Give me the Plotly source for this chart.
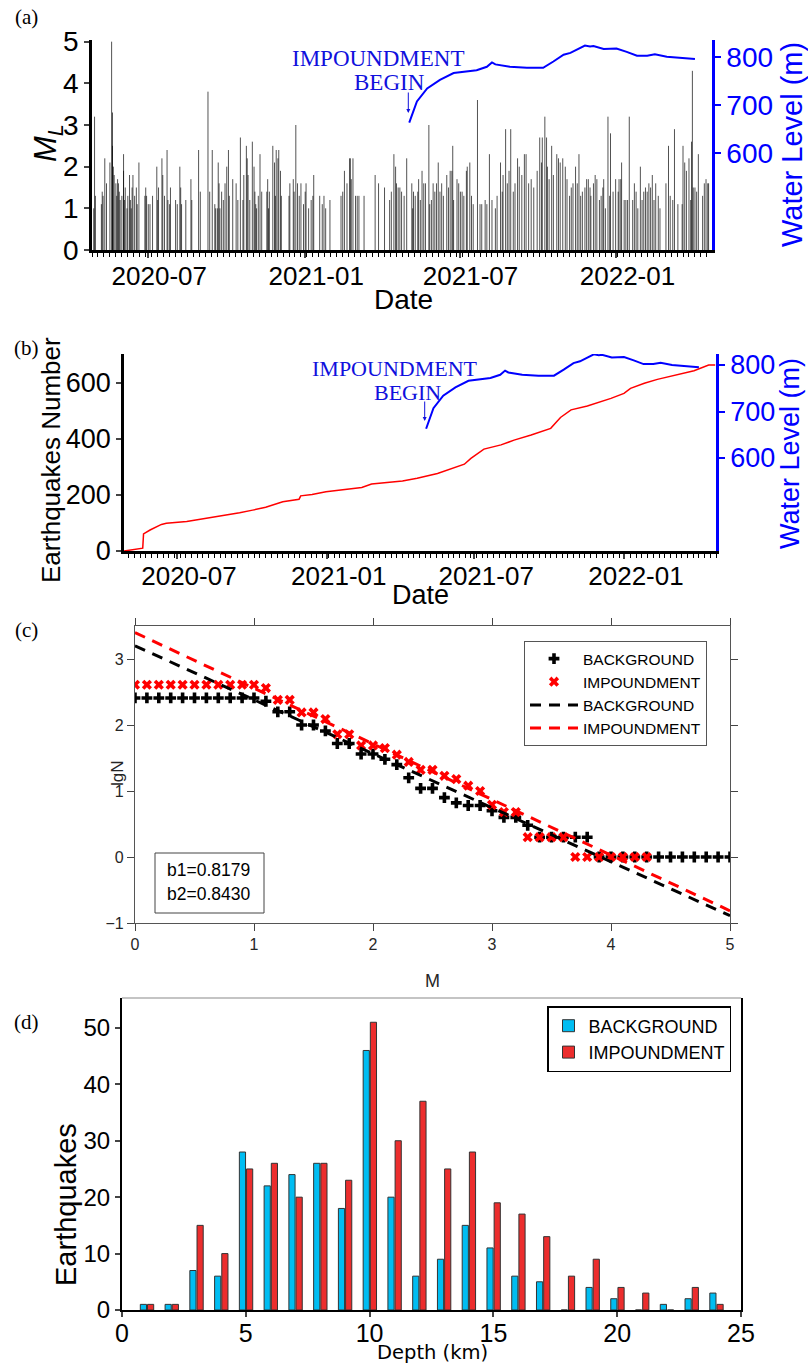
import plotly.graph_objects as go

W, H = 808, 1366
SANS = "Liberation Sans, Arial, Helvetica, sans-serif"
SERIF = "Liberation Serif, Times New Roman, serif"
BLUE = "#0000ff"

# ---------------- (a) earthquake magnitudes ----------------
ev_dates = [
 "2020-04-28","2020-04-29","2020-04-30","2020-05-07","2020-05-08","2020-05-09","2020-05-11","2020-05-13","2020-05-17","2020-05-19",
 "2020-05-20","2020-05-20","2020-05-21","2020-05-22","2020-05-24","2020-05-25","2020-05-26","2020-05-27","2020-05-28","2020-05-29",
 "2020-05-31","2020-06-02","2020-06-02","2020-06-03","2020-06-04","2020-06-06","2020-06-07","2020-06-09","2020-06-10","2020-06-11",
 "2020-06-12","2020-06-13","2020-06-15","2020-06-17","2020-06-18","2020-06-20","2020-06-27","2020-06-28","2020-06-29","2020-07-01",
 "2020-07-03","2020-07-06","2020-07-11","2020-07-12","2020-07-13","2020-07-17","2020-07-18","2020-07-20","2020-07-23","2020-07-24",
 "2020-07-26","2020-07-27","2020-08-02","2020-08-04","2020-08-07","2020-08-08","2020-08-09","2020-08-14","2020-08-20","2020-08-21",
 "2020-08-29","2020-08-31","2020-09-09","2020-09-11","2020-09-14","2020-09-17","2020-09-18","2020-09-20","2020-09-21","2020-09-22",
 "2020-09-23","2020-09-25","2020-09-27","2020-09-29","2020-10-01","2020-10-03","2020-10-04","2020-10-08","2020-10-12","2020-10-14",
 "2020-10-17","2020-10-20","2020-10-21","2020-10-24","2020-10-25","2020-10-26","2020-10-28",
 "2020-10-31","2020-11-02","2020-11-03","2020-11-04","2020-11-05","2020-11-07","2020-11-09","2020-11-11","2020-11-17","2020-11-18",
 "2020-11-19","2020-11-20","2020-11-24","2020-11-26","2020-11-27","2020-11-28","2020-11-30","2020-12-01","2020-12-03","2020-12-04",
 "2020-12-13","2020-12-14","2020-12-18","2020-12-19","2020-12-21","2020-12-23","2020-12-25","2020-12-27","2020-12-30","2021-01-01",
 "2021-01-02","2021-01-05","2021-01-08","2021-01-10","2021-01-11","2021-01-18","2021-01-21","2021-01-23","2021-01-25","2021-01-30",
 "2021-02-12","2021-02-14","2021-02-16","2021-02-19","2021-02-22","2021-02-23","2021-02-24","2021-02-26","2021-03-01","2021-03-03",
 "2021-03-05","2021-03-11","2021-03-24","2021-03-28","2021-04-04","2021-04-10","2021-04-12","2021-04-15","2021-04-17","2021-04-18",
 "2021-04-20","2021-04-22","2021-04-24","2021-04-27","2021-04-30",
 "2021-05-06","2021-05-07","2021-05-08","2021-05-10","2021-05-13","2021-05-14","2021-05-16","2021-05-18","2021-05-20","2021-05-22",
 "2021-05-26","2021-05-27","2021-05-29","2021-05-31","2021-06-02","2021-06-04","2021-06-06","2021-06-08","2021-06-10","2021-06-12",
 "2021-06-16","2021-06-18","2021-06-20","2021-06-22","2021-06-23","2021-06-24","2021-06-28","2021-06-30","2021-07-02","2021-07-04",
 "2021-07-06","2021-07-09","2021-07-10","2021-07-13","2021-07-15","2021-07-17","2021-07-22","2021-07-25","2021-07-27","2021-07-31",
 "2021-08-02","2021-08-05","2021-08-08","2021-08-12","2021-08-14","2021-08-18","2021-08-20","2021-08-21","2021-08-24","2021-08-26",
 "2021-08-28","2021-08-30","2021-09-02","2021-09-04","2021-09-07","2021-09-09","2021-09-12","2021-09-15","2021-09-17","2021-09-20",
 "2021-09-23","2021-09-26","2021-09-30","2021-10-03","2021-10-05","2021-10-06","2021-10-09","2021-10-11","2021-10-12","2021-10-14",
 "2021-10-17","2021-10-19","2021-10-23","2021-10-25","2021-10-27","2021-10-30","2021-11-02","2021-11-04","2021-11-07",
 "2021-11-09","2021-11-11","2021-11-14","2021-11-16","2021-11-18","2021-11-20","2021-11-22","2021-11-25","2021-11-27","2021-11-29",
 "2021-12-01","2021-12-02","2021-12-05","2021-12-07","2021-12-09","2021-12-12","2021-12-14","2021-12-16","2021-12-17","2021-12-19",
 "2021-12-22","2021-12-24","2021-12-25","2021-12-28","2021-12-31","2022-01-03","2022-01-04","2022-01-06","2022-01-07","2022-01-10",
 "2022-01-12","2022-01-14","2022-01-16","2022-01-20","2022-01-22","2022-01-24","2022-01-26","2022-01-29","2022-01-31","2022-02-02",
 "2022-02-04","2022-02-06","2022-02-08","2022-02-10","2022-02-12","2022-02-14","2022-02-16","2022-02-19","2022-02-21","2022-02-28",
 "2022-03-03","2022-03-05","2022-03-08","2022-03-10","2022-03-14","2022-03-19","2022-03-20","2022-03-22","2022-03-24","2022-03-27",
 "2022-03-29","2022-03-30","2022-03-31","2022-04-01","2022-04-03","2022-04-05","2022-04-07","2022-04-12","2022-04-14","2022-04-16",
 "2022-04-18","2022-04-19",
]
ev_mags = [
 1.0,3.2,1.3,1.1,1.4,1.3,2.2,1.6,2.1,5.0,
 3.3,2.5,2.0,1.8,1.6,1.3,1.7,1.6,1.4,1.2,
 1.3,2.3,1.9,1.2,1.5,1.0,1.3,1.8,1.2,1.0,
 1.5,1.8,1.3,1.5,1.1,2.1,1.3,1.5,1.3,1.1,
 1.1,1.3,2.0,1.2,1.5,2.2,1.8,1.3,2.4,1.2,
 1.1,1.5,1.2,1.1,2.0,1.5,1.1,1.2,1.7,1.2,
 2.4,1.4,3.8,1.4,2.4,1.1,1.0,1.0,2.1,1.6,
 1.0,1.4,1.2,1.6,2.0,2.4,1.3,1.7,1.6,1.2,
 2.7,1.2,1.8,2.5,2.2,1.8,1.2,
 2.6,2.0,1.4,1.1,1.0,1.3,2.3,1.4,1.4,1.7,
 1.0,1.4,2.5,2.1,1.3,2.4,2.2,2.4,1.9,1.3,
 1.3,1.6,1.7,1.4,3.0,1.6,1.3,1.6,1.1,1.4,
 1.6,1.0,1.2,1.3,1.8,1.3,1.1,1.3,1.0,1.2,
 1.3,1.4,1.9,1.6,2.2,2.2,1.7,2.2,1.3,1.3,
 1.3,1.3,1.8,1.6,1.5,1.2,1.4,2.3,2.0,1.6,
 1.5,1.5,1.4,1.3,2.2,
 1.6,1.0,1.4,1.3,1.4,1.7,1.2,1.9,1.6,1.6,
 3.0,1.1,1.2,1.6,1.4,1.6,2.1,1.4,1.6,1.3,
 1.8,1.5,1.9,1.9,2.5,1.2,1.7,1.6,1.4,1.4,
 1.3,1.9,2.0,2.1,1.3,1.1,3.6,1.1,1.1,1.2,
 1.1,2.3,1.2,1.0,1.3,2.1,1.4,1.8,2.9,1.6,
 1.9,2.9,1.4,1.6,2.2,2.0,1.8,2.3,2.3,1.6,
 1.7,1.5,1.9,2.7,2.1,2.7,3.2,2.7,2.0,1.7,
 2.5,1.8,2.3,2.2,2.1,2.2,2.0,1.7,1.3,
 1.5,1.6,2.0,1.6,2.3,1.3,1.4,1.5,1.7,1.7,
 1.5,1.3,1.6,1.8,1.7,1.2,1.3,1.5,1.7,1.0,
 3.2,1.3,2.8,1.4,1.7,1.4,1.7,1.7,2.1,1.2,
 1.2,1.2,3.2,1.2,1.6,1.4,1.0,2.0,1.2,1.4,
 1.5,1.4,1.6,1.5,1.8,1.2,1.6,1.3,1.0,1.6,
 2.5,1.3,1.2,2.9,1.1,1.1,2.5,2.1,1.9,2.2,
 1.2,2.6,4.3,1.5,1.5,1.4,2.3,1.3,1.6,1.7,
 1.6,1.6,
]

# ---------------- reservoir water level ----------------
wl_dates = ["2021-05-03","2021-05-12","2021-05-24","2021-06-08","2021-06-24","2021-07-21","2021-08-02","2021-08-08",
            "2021-08-12","2021-08-29","2021-09-18","2021-10-07","2021-10-19","2021-10-31","2021-11-08","2021-11-25",
            "2021-12-01","2021-12-05","2021-12-17","2022-01-01","2022-01-13","2022-01-25","2022-02-06","2022-02-15",
            "2022-03-01","2022-03-17","2022-04-03"]
wl_vals = [663, 707, 734, 752, 766, 772, 779, 788,
           784, 779, 777, 777, 790, 804, 808, 823,
           821, 822, 816, 817, 810, 802, 802, 805,
           800, 798, 795]

# ---------------- (b) cumulative number ----------------
cum_dates = ["2020-04-27","2020-05-20","2020-05-21","2020-05-29","2020-06-12","2020-06-18","2020-07-13","2020-07-29",
             "2020-08-18","2020-09-08","2020-09-16","2020-10-02","2020-10-18","2020-11-08","2020-11-28","2020-11-30",
             "2020-12-14","2020-12-31","2021-01-24","2021-02-13","2021-02-25","2021-03-14","2021-04-04","2021-04-22",
             "2021-05-17","2021-06-19","2021-06-27","2021-07-13","2021-08-03","2021-08-19","2021-09-09","2021-10-03",
             "2021-10-15","2021-10-28","2021-11-17","2021-12-16","2022-01-01","2022-01-09","2022-01-26","2022-02-11",
             "2022-03-07","2022-03-28","2022-04-15","2022-04-23"]
cum_counts = [0, 10, 61, 75, 95, 99, 105, 113,
              123, 131, 137, 146, 156, 176, 185, 197,
              202, 212, 220, 227, 239, 245, 250, 260,
              277, 310, 331, 364, 379, 396, 414, 438,
              477, 504, 518, 545, 563, 581, 599, 613,
              629, 644, 664, 664]

# ---------------- (c) Gutenberg-Richter ----------------
mag_bins = [0.0,0.1,0.2,0.3,0.4,0.5,0.6,0.7,0.8,0.9,1.0,1.1,1.2,1.3,1.4,1.5,1.6,1.7,1.8,1.9,
            2.0,2.1,2.2,2.3,2.4,2.5,2.6,2.7,2.8,2.9,3.0,3.1,3.2,3.3,3.4,3.5,3.6,3.7,3.8,3.9,
            4.0,4.1,4.2,4.3,4.4,4.5,4.6,4.7,4.8,4.9,5.0]
lg_bg = [2.41,2.41,2.41,2.41,2.41,2.41,2.41,2.41,2.41,2.41,2.41,2.36,2.20,2.20,2.00,2.00,1.91,1.72,1.72,1.56,
         1.56,1.48,1.40,1.20,1.04,1.04,0.90,0.82,0.78,0.78,0.70,0.60,0.60,0.48,0.30,0.30,0.30,0.30,0.30,0.0,
         0.0,0.0,0.0,0.0,0.0,0.0,0.0,0.0,0.0,0.0,0.0]
lg_imp = [2.61,2.61,2.61,2.61,2.61,2.61,2.61,2.61,2.61,2.61,2.61,2.56,2.38,2.38,2.19,2.19,2.09,1.86,1.86,1.69,
          1.69,1.65,1.55,1.44,1.32,1.32,1.23,1.18,1.08,1.00,0.79,0.68,0.68,0.30,0.30,0.30,0.30,0.0,0.0,0.0,
          0.0,0.0,0.0,0.0]
fit_m = [0, 5]
fit_bg = [3.20, -0.89]
fit_imp = [3.40, -0.815]
b_text = ["b1=0.8179", "b2=0.8430"]

# ---------------- (d) depth histogram ----------------
depth = [1,2,3,4,5,6,7,8,9,10,11,12,13,14,15,16,17,18,19,20,21,22,23,24]
dep_bg = [1,1,7,6,28,22,24,26,18,46,20,6,9,15,11,6,5,0,4,2,0,1,2,3]
dep_imp = [1,1,15,10,25,26,20,26,23,51,30,37,25,28,19,17,13,6,9,4,3,0,4,1]

date_ticks = ["2020-07-01", "2021-01-01", "2021-07-01", "2022-01-01"]
date_text = ["2020-07", "2021-01", "2021-07", "2022-01"]


def fx(x):
    return x / W


def fy(y):
    return 1 - y / H


fig = go.Figure()

# (a) stems
sx, sy = [], []
for d, m in zip(ev_dates, ev_mags):
    sx += [d, d, None]
    sy += [0, m, None]
fig.add_trace(go.Scatter(x=sx, y=sy, mode="lines", line=dict(color="rgba(0,0,0,0.68)", width=1),
                         xaxis="x", yaxis="y", showlegend=False, hoverinfo="skip"))
fig.add_trace(go.Scatter(x=wl_dates, y=wl_vals, mode="lines", line=dict(color=BLUE, width=2),
                         xaxis="x", yaxis="y2", showlegend=False))
# (b)
fig.add_trace(go.Scatter(x=cum_dates, y=cum_counts, mode="lines", line=dict(color="#ff0000", width=1.5),
                         xaxis="x2", yaxis="y3", showlegend=False))
fig.add_trace(go.Scatter(x=wl_dates, y=wl_vals, mode="lines", line=dict(color=BLUE, width=2),
                         xaxis="x2", yaxis="y4", showlegend=False))
# (c)
fig.add_trace(go.Scatter(x=mag_bins, y=lg_bg, mode="markers", name="BACKGROUND",
                         marker=dict(symbol="cross", size=9, color="black"),
                         xaxis="x3", yaxis="y5", legend="legend"))
fig.add_trace(go.Scatter(x=mag_bins[:len(lg_imp)], y=lg_imp, mode="markers", name="IMPOUNDMENT",
                         marker=dict(symbol="x", size=9, color="#ff0000"),
                         xaxis="x3", yaxis="y5", legend="legend"))
fig.add_trace(go.Scatter(x=fit_m, y=fit_bg, mode="lines", name="BACKGROUND",
                         line=dict(color="black", width=3, dash="11px,8px"),
                         xaxis="x3", yaxis="y5", legend="legend"))
fig.add_trace(go.Scatter(x=fit_m, y=fit_imp, mode="lines", name="IMPOUNDMENT",
                         line=dict(color="#ff0000", width=3, dash="11px,8px"),
                         xaxis="x3", yaxis="y5", legend="legend"))
# (d)
fig.add_trace(go.Bar(x=depth, y=dep_bg, width=0.25, offset=-0.26, name="BACKGROUND",
                     marker=dict(color="#00bdf2", line=dict(color="#333333", width=1)),
                     xaxis="x4", yaxis="y6", legend="legend2"))
fig.add_trace(go.Bar(x=depth, y=dep_imp, width=0.25, offset=0.03, name="IMPOUNDMENT",
                     marker=dict(color="#ec2d2d", line=dict(color="#333333", width=1)),
                     xaxis="x4", yaxis="y6", legend="legend2"))

minor_week = dict(ticks="outside", ticklen=4, tickwidth=1, tickcolor="black", dtick=7 * 86400000, showgrid=False)

layout = dict(
    width=W, height=H, margin=dict(l=0, r=0, t=0, b=0, autoexpand=False),
    paper_bgcolor="white", plot_bgcolor="white", barmode="overlay",
    font=dict(family=SANS, color="black"),
    # (a)
    xaxis=dict(domain=[fx(92), fx(712)], anchor="y", type="date", range=["2020-04-26", "2022-04-23"],
               tickvals=date_ticks, ticktext=date_text, tickfont=dict(size=26, family=SANS),
               ticks="outside", ticklen=5, tickwidth=1.5, showline=True, linewidth=3, linecolor="black",
               showgrid=False, zeroline=False, ticklabelshift=11, ticklabelstandoff=-4, minor=minor_week),
    yaxis=dict(domain=[fy(250), fy(40)], anchor="x", range=[0, 5.04], tickvals=[0, 1, 2, 3, 4, 5],
               tickfont=dict(size=28, family=SANS), ticks="outside", ticklen=5, tickwidth=1.5,
               showline=True, linewidth=2.5, linecolor="black", showgrid=False, zeroline=False),
    yaxis2=dict(overlaying="y", side="right", anchor="x", range=[398.5, 834.7], tickvals=[600, 700, 800],
                tickfont=dict(size=28, family=SANS, color=BLUE), ticks="outside", ticklen=6, tickwidth=2,
                tickcolor=BLUE, showline=True, linewidth=2.5, linecolor=BLUE, showgrid=False, zeroline=False),
    # (b)
    xaxis2=dict(domain=[fx(124), fx(716)], anchor="y3", type="date", range=["2020-04-27", "2022-04-24"],
                tickvals=date_ticks, ticktext=date_text, tickfont=dict(size=26, family=SANS),
                ticks="outside", ticklen=5, tickwidth=1.5, showline=True, linewidth=3, linecolor="black",
                showgrid=False, zeroline=False, ticklabelshift=12, ticklabelstandoff=-5, minor=minor_week),
    yaxis3=dict(domain=[fy(551), fy(354)], anchor="x2", range=[0, 703.6], tickvals=[0, 200, 400, 600],
                tickfont=dict(size=27, family=SANS), ticks="outside", ticklen=5, tickwidth=1.5,
                showline=True, linewidth=2.5, linecolor="black", showgrid=False, zeroline=False),
    yaxis4=dict(overlaying="y3", side="right", anchor="x2", range=[400, 823.7], tickvals=[600, 700, 800],
                tickfont=dict(size=27, family=SANS, color=BLUE), ticks="outside", ticklen=6, tickwidth=2,
                tickcolor=BLUE, showline=True, linewidth=2.5, linecolor=BLUE, showgrid=False, zeroline=False),
    # (c)
    xaxis3=dict(domain=[fx(135), fx(730)], anchor="y5", range=[0, 5], tickvals=[0, 1, 2, 3, 4, 5],
                tickfont=dict(size=16, family=SANS, color="#262626"), ticks="outside", ticklen=7,
                tickcolor="#444444", showline=True, linewidth=1.2, linecolor="#555555", mirror="ticks",
                showgrid=False, zeroline=False),
    yaxis5=dict(domain=[fy(923), fy(626)], anchor="x3", range=[-1, 3.5], tickvals=[-1, 0, 1, 2, 3],
                tickfont=dict(size=16, family=SANS, color="#262626"), ticks="outside", ticklen=7,
                tickcolor="#444444", showline=True, linewidth=1.2, linecolor="#555555", mirror="ticks",
                showgrid=False, zeroline=False),
    # (d)
    xaxis4=dict(domain=[fx(122), fx(741)], anchor="y6", range=[0, 25], tickvals=[0, 5, 10, 15, 20, 25],
                tickfont=dict(size=25, family=SANS), ticks="outside", ticklen=5, tickwidth=1.5,
                showline=True, linewidth=2, linecolor="black", showgrid=False, zeroline=False,
                ticklabelstandoff=-5),
    yaxis6=dict(domain=[fy(1310), fy(998)], anchor="x4", range=[0, 55.3], tickvals=[0, 10, 20, 30, 40, 50],
                tickfont=dict(size=24, family=SANS), ticks="outside", ticklen=5, tickwidth=1.5,
                showline=True, linewidth=2, linecolor="black", mirror=True, showgrid=False, zeroline=False),
    legend=dict(x=fx(524), y=fy(641), xanchor="left", yanchor="top", bgcolor="white",
                bordercolor="#555555", borderwidth=1, font=dict(size=15.5, family=SANS, color="black"),
                itemwidth=48, tracegroupgap=0, traceorder="normal"),
    legend2=dict(x=fx(547), y=fy(1006), xanchor="left", yanchor="top", bgcolor="white",
                 bordercolor="black", borderwidth=1.5, font=dict(size=18, family=SANS, color="black"),
                 tracegroupgap=0, traceorder="normal"),
)
fig.update_layout(**layout)


def ann(text, x, y, size, color="black", angle=0, family=SANS, xanchor="center", yanchor="middle"):
    return dict(text=text, x=fx(x), y=fy(y), xref="paper", yref="paper", showarrow=False,
                font=dict(size=size, color=color, family=family), textangle=angle,
                xanchor=xanchor, yanchor=yanchor)


TBLUE = "#1010dd"
annotations = [
    ann("(a)", 26, 17, 21, family=SERIF),
    ann("(b)", 26, 348, 21, family=SERIF),
    ann("(c)", 26, 630, 21, family=SERIF),
    ann("(d)", 26, 1022, 21, family=SERIF),
    # (a) titles
    ann("<i>M</i><sub><i>L</i></sub>", 48, 143, 31, angle=-90),
    ann("Date", 403, 299, 28),
    ann("Water Level (m)", 792, 145, 29, color=BLUE, angle=-90),
    ann("IMPOUNDMENT", 378, 58, 23, color=TBLUE, family=SERIF),
    ann("BEGIN", 389.5, 82, 23, color=TBLUE, family=SERIF),
    # (b) titles
    ann("Earthquakes Number", 51, 460, 26, angle=-90),
    ann("Date", 420, 595, 27),
    ann("Water Level (m)", 790, 454, 27, color=BLUE, angle=-90),
    ann("IMPOUNDMENT", 394.5, 369, 22, color=TBLUE, family=SERIF),
    ann("BEGIN", 407, 392, 22, color=TBLUE, family=SERIF),
    # (c)
    ann("lgN", 117, 773, 17, color="#262626", angle=-90),
    ann("M", 432, 981, 18, color="#262626"),
    ann(b_text[0], 165, 870, 17.5, xanchor="left"),
    ann(b_text[1], 165, 894, 17.5, xanchor="left"),
    # (d)
    ann("Earthquakes", 66, 1205, 29, angle=-90),
    ann("Depth (km)", 432, 1352, 19.5, family="DejaVu Sans, Verdana, sans-serif"),
]
# arrows for impoundment start
for (xa, ytip, ylen) in [(408.3, 113, 22), (424.7, 421, 21)]:
    annotations.append(dict(text="", x=fx(xa), y=fy(ytip), xref="paper", yref="paper", showarrow=True,
                            ax=0, ay=-ylen, arrowhead=2, arrowsize=0.8, arrowwidth=1, arrowcolor=TBLUE,
                            standoff=0))
fig.update_layout(annotations=annotations)

shapes = [
    dict(type="rect", xref="paper", yref="paper", x0=fx(155), x1=fx(264), y0=fy(913), y1=fy(853),
         line=dict(color="#444444", width=1), fillcolor="rgba(0,0,0,0)", layer="above"),
    dict(type="line", xref="paper", yref="paper", x0=fx(122), x1=fx(741), y0=fy(998), y1=fy(998),
         line=dict(color="#b0b0b0", width=1.5)),
]
fig.update_layout(shapes=shapes)

fig.write_html("out.html", config={"displayModeBar": False},
               post_script="document.body.style.margin='0px';document.body.style.padding='0px';")
